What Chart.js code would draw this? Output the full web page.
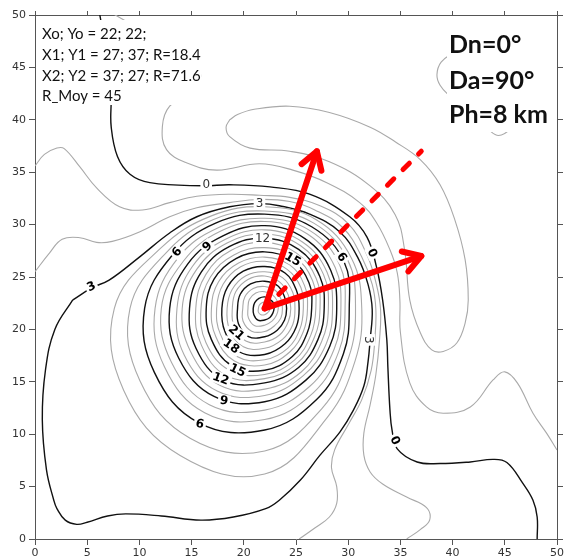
<!DOCTYPE html>
<html>
<head>
<meta charset="utf-8">
<script src="https://cdn.jsdelivr.net/npm/chart.js@4.4.1/dist/chart.umd.min.js"></script>
<style>
  html, body { margin: 0; padding: 0; background: #fff; }
  #map { display: block; }
</style>
</head>
<body>
<canvas id="map" width="564" height="558"></canvas>
<script>
// ---- axes ----
const axisTicks = [0, 5, 10, 15, 20, 25, 30, 35, 40, 45, 50];

// ---- source point and the two target vectors ----
const origin = [22, 22];
const arrowTips = [[27, 37], [37, 27]];
const meanTip = [37, 37];

const infoLines = ['Xo; Yo = 22; 22;', 'X1; Y1 = 27; 37; R=18.4', 'X2; Y2 = 37; 27; R=71.6', 'R_Moy = 45'];
const paramLines = ['Dn=0°', 'Da=90°', 'Ph=8 km'];

// ---- closed rings around the peak: radius (km) per direction ----
const ringAngles = [0, 30, 60, 90, 120, 150, 180, 210, 240, 270, 300, 330];
const ringLevels = [4, 5, 6, 7, 8, 9, 10, 11, 12, 13, 14, 15, 16, 17, 18, 19, 20, 21, 22, 23, 24, 25];
const ringRadii = [
  [9.3, 9.6, 9.8, 9.7, 10.2, 11.5, 14.4, 15.6, 16.2, 15.8, 12.0, 10.0],
  [8.7, 9.2, 9.4, 9.3, 9.8, 10.8, 12.9, 13.8, 14.3, 13.6, 11.0, 9.3],
  [8.1, 8.8, 9.0, 9.0, 9.4, 10.2, 11.5, 12.2, 12.6, 11.6, 10.0, 8.7],
  [7.7, 8.3, 8.6, 8.6, 8.9, 9.6, 10.5, 11.1, 11.5, 10.6, 9.3, 8.2],
  [7.3, 7.8, 8.2, 8.3, 8.5, 9.0, 9.9, 10.3, 10.6, 9.7, 8.6, 7.7],
  [6.9, 7.3, 7.7, 7.9, 8.0, 8.5, 9.1, 9.5, 9.7, 8.9, 7.9, 7.2],
  [6.5, 6.9, 7.3, 7.5, 7.6, 8.0, 8.4, 8.9, 9.1, 8.3, 7.4, 6.8],
  [6.1, 6.5, 6.9, 7.1, 7.2, 7.5, 7.9, 8.2, 8.5, 7.7, 7.0, 6.3],
  [5.7, 6.1, 6.5, 6.7, 6.8, 7.0, 7.2, 7.6, 7.9, 7.1, 6.5, 5.9],
  [5.3, 5.7, 6.1, 6.3, 6.4, 6.5, 6.6, 7.0, 7.4, 6.7, 6.1, 5.5],
  [4.9, 5.3, 5.7, 5.8, 5.9, 6.0, 6.1, 6.5, 6.8, 6.3, 5.7, 5.1],
  [4.5, 4.9, 5.3, 5.4, 5.5, 5.6, 5.6, 5.9, 6.3, 5.9, 5.3, 4.7],
  [4.1, 4.4, 4.8, 4.9, 5.0, 5.1, 5.1, 5.4, 5.8, 5.4, 4.8, 4.3],
  [3.7, 4.0, 4.3, 4.5, 4.6, 4.6, 4.6, 4.9, 5.3, 4.9, 4.4, 3.9],
  [3.3, 3.5, 3.9, 4.0, 4.1, 4.1, 4.1, 4.4, 4.8, 4.4, 3.9, 3.5],
  [2.9, 3.1, 3.4, 3.5, 3.6, 3.6, 3.6, 3.9, 4.2, 3.8, 3.4, 3.1],
  [2.5, 2.6, 2.9, 3.1, 3.2, 3.2, 3.1, 3.4, 3.6, 3.2, 2.9, 2.6],
  [2.1, 2.2, 2.5, 2.6, 2.7, 2.7, 2.6, 2.9, 3.1, 2.7, 2.4, 2.2],
  [1.7, 1.8, 2.0, 2.1, 2.2, 2.2, 2.1, 2.4, 2.5, 2.2, 1.9, 1.8],
  [1.3, 1.4, 1.5, 1.6, 1.7, 1.7, 1.6, 1.8, 1.9, 1.6, 1.4, 1.3],
  [0.9, 1.0, 1.0, 1.1, 1.1, 1.1, 1.1, 1.2, 1.3, 1.1, 1.0, 0.9],
  [0.5, 0.5, 0.5, 0.6, 0.6, 0.6, 0.6, 0.7, 0.7, 0.6, 0.5, 0.5]
];

// ---- outer isolines, traced as [x, y] ----
const line3 = [[3.6,22.8],[5.5,24.0],[7.1,24.7],[10.0,26.9],[12.9,29.2],[15.5,30.75],[18.65,31.7],[21.5,32.0],[23.4,31.8],[26.3,31.0],[29.2,29.3],[30.9,26.9],[31.9,24.3],[32.3,21.9],[32.1,19.0],[31.9,16.9],[31.5,14.6],[30.5,12.3],[29.2,10.2],[27.3,8.0],[25.4,5.6],[23.4,3.7],[22.1,2.9],[19.0,2.1],[15.9,1.8],[12.1,2.2],[8.7,2.4],[6.95,2.2],[5.0,1.6],[4.0,1.4],[2.9,1.8],[2.1,2.9],[1.8,3.7],[1.1,6.6],[0.7,11.4],[1.0,16.1],[1.9,20.0],[3.6,22.8]];
const line2 = [[0,25.5],[1.4,27.3],[2.6,28.6],[4.3,28.75],[5.9,28.3],[7.4,28.4],[10.0,29.3],[12.9,30.75],[15.5,31.6],[18.65,32.1],[21.5,32.4],[24.4,32.2],[26.8,31.4],[29.5,29.7],[31.3,26.9],[32.3,24.3],[32.65,21.9],[32.55,19.0],[32.2,16.1],[31.3,13.3],[30.0,10.9],[28.7,8.5],[28.4,6.8],[28.9,5.0],[28.9,3.4],[28.2,2.1],[26.8,1.05],[25.3,0]];
const line1 = [[0,35.6],[0.9,36.7],[2.1,37.3],[2.8,37.25],[4.3,35.5],[5.9,33.5],[8.1,31.7],[10.3,31.4],[12.9,32.1],[15.5,32.7],[18.65,32.9],[21.5,32.8],[24.4,32.6],[27.3,31.8],[30.0,30.1],[31.8,27.1],[32.7,24.3],[33.1,21.9],[33.0,19.0],[32.65,15.7],[32.1,12.8],[31.5,10.1],[31.5,8.0],[32.1,6.4],[33.3,5.25],[35.6,4.0],[37.5,3.0],[37.8,1.8],[36.9,0.9],[35.6,0]];
const line0 = [[6.2,50.05],[6.8,46.7],[7.3,43.4],[7.3,41.9],[7.3,39.3],[7.9,36.5],[9.1,34.8],[11.0,34.0],[16.1,33.7],[18.65,33.8],[22.5,33.6],[26.3,32.9],[30.15,30.75],[31.8,28.8],[32.7,26.0],[33.3,22.8],[33.7,19.0],[33.8,16.4],[34.0,12.3],[34.2,10.4],[34.7,8.6],[36.6,7.35],[38.8,7.2],[41.7,7.35],[43.9,7.6],[45.2,7.3],[46.7,5.35],[47.7,3.7],[48.1,2.1],[48.1,0]];
const lineM1 = [[7.6,50.05],[11.0,48.1],[14.3,46.2],[15.8,44.6],[15.3,42.9],[12.9,41.3],[12.2,39.35],[12.6,37.15],[14.5,35.9],[17.4,35.2],[21.5,35.8],[24.7,35.2],[27.95,34.0],[31.1,32.1],[32.7,30.2],[34.0,27.6],[34.7,25.4],[34.95,22.8],[35.0,19.7],[35.9,14.9],[37.5,12.6],[39.1,12.0],[41.7,12.6],[43.9,15.2],[45.0,15.95],[46.2,14.9],[47.7,12.0],[49.0,10.1],[50,8.5]];
const lineM2 = [[18.65,40.0],[18.3,39.3],[18.65,38.4],[20.6,37.3],[24.4,37.0],[28.2,36.0],[32.1,33.7],[34.5,30.95],[35.4,27.6],[35.9,22.8],[36.9,19.7],[38.0,18.05],[39.1,17.9],[40.4,18.7],[41.2,20.6],[41.5,22.8],[41.2,26.65],[40.2,30.5],[38.8,33.8],[36.9,36.2],[34.5,37.9],[32.1,39.3],[28.2,40.7],[24.4,41.3],[21.0,41.0],[19.4,40.5],[18.65,40.0]];
// small closed low in the upper-right corner, mostly under the parameter block
const lineM3 = [[40.2,46.5],[38.9,45.5],[38.5,44.3],[38.8,43.3],[39.7,42.3],[41.7,40.5],[43.4,39.1],[44.4,38.5],[45.5,39.1],[46.9,41.2],[47.4,43.8],[46.0,46.2],[43.6,47.2],[40.2,46.5]];

const outerLines = [
  { level: 3, pts: line3 }, { level: 2, pts: line2 }, { level: 1, pts: line1 },
  { level: 0, pts: line0 }, { level: -1, pts: lineM1 }, { level: -2, pts: lineM2 },
  { level: -4, pts: lineM3 }
];

// isoline labels: value, anchor (km), rotation (deg), bold
const contourLabels = [
  ['0', 16.4, 33.8, 0, false], ['3', 21.5, 32.0, 0, false], ['12', 21.8, 28.7, 0, false],
  ['6', 13.6, 27.4, -50, true], ['9', 16.5, 27.9, -42, true],
  ['15', 24.7, 26.7, 30, true], ['6', 29.4, 26.9, 55, true], ['0', 32.3, 27.3, 65, true],
  ['3', 5.4, 24.1, -25, true],
  ['21', 19.3, 19.7, 42, true], ['18', 18.8, 18.4, 35, true], ['15', 19.4, 16.1, 25, true],
  ['12', 17.8, 15.3, 20, true], ['9', 18.1, 13.2, 10, true], ['6', 15.8, 11.0, 12, true],
  ['3', 32.0, 19.0, 90, false], ['0', 34.5, 9.4, 62, true]
];

// ---- datasets ----
function isoStyle(level) {
  const major = level % 3 === 0 && level >= 0;
  return { borderColor: major ? '#111' : '#a9a9a9', borderWidth: major ? 1.4 : 1.1 };
}

const datasets = [];
ringLevels.forEach((lev, i) => {
  const pts = ringAngles.map((a, j) => {
    const t = a * Math.PI / 180;
    return { x: origin[0] + ringRadii[i][j] * Math.cos(t), y: origin[1] + ringRadii[i][j] * Math.sin(t) };
  });
  // wrap one point on each side so the closing joint is smoothed too,
  // then hide the two one-sided end segments
  const data = [pts[pts.length - 1]].concat(pts, [pts[0], pts[1]]);
  const last = data.length - 1;
  const st = isoStyle(lev);
  datasets.push({
    data, tension: 0.4, pointRadius: 0, order: 1,
    borderColor: st.borderColor, borderWidth: st.borderWidth,
    segment: {
      borderColor: c => (c.p0DataIndex === 0 || c.p1DataIndex === last) ? 'rgba(0,0,0,0)' : st.borderColor
    }
  });
});
outerLines.forEach(l => {
  datasets.push(Object.assign({ data: l.pts.map(p => ({ x: p[0], y: p[1] })), tension: 0.4, pointRadius: 0, order: 1 }, isoStyle(l.level)));
});
// mean direction (dashed) and the two vectors
datasets.push({
  data: [{ x: origin[0], y: origin[1] }, { x: meanTip[0], y: meanTip[1] }],
  borderColor: '#ff0000', borderWidth: 5, borderDash: [9, 13], borderDashOffset: 2,
  borderCapStyle: 'round', pointRadius: 0, order: 0, isArrow: true
});
arrowTips.forEach(t => {
  datasets.push({
    data: [{ x: origin[0], y: origin[1] }, { x: t[0], y: t[1] }],
    borderColor: '#ff0000', borderWidth: 6, borderCapStyle: 'round',
    pointRadius: 0, order: 0, isArrow: true
  });
});

// ---- overlay: isoline labels, text blocks, arrow heads ----
let labelsDone = false;

function drawLabels(chart) {
  const { ctx, scales } = chart;
  ctx.save();
  ctx.textAlign = 'center';
  ctx.textBaseline = 'middle';
  contourLabels.forEach(([txt, x, y, rot, bold]) => {
    const px = scales.x.getPixelForValue(x);
    const py = scales.y.getPixelForValue(y);
    ctx.save();
    ctx.translate(px, py);
    ctx.rotate(rot * Math.PI / 180);
    ctx.font = (bold ? 'bold ' : '') + '12px "DejaVu Sans"';
    const w = ctx.measureText(txt).width + 4;
    ctx.fillStyle = '#fff';
    ctx.fillRect(-w / 2, -6, w, 12);
    ctx.fillStyle = bold ? '#000' : '#333';
    ctx.fillText(txt, 0, 0.5);
    ctx.restore();
  });
  ctx.restore();
}

function drawTextBlocks(chart) {
  const ctx = chart.ctx;
  ctx.save();
  ctx.fillStyle = '#fff';
  ctx.fillRect(36, 20, 165, 85);
  ctx.fillRect(447, 25, 109, 107);
  ctx.fillStyle = '#111';
  ctx.textAlign = 'left';
  ctx.textBaseline = 'alphabetic';
  ctx.font = '15px Lato';
  const base = [38.5, 59.5, 80.5, 101];
  infoLines.forEach((s, i) => ctx.fillText(s, 42, base[i]));
  ctx.font = 'bold 25px Lato';
  const base2 = [53, 89, 123];
  paramLines.forEach((s, i) => ctx.fillText(s, 449, base2[i]));
  ctx.restore();
}

function drawArrowHeads(chart) {
  const { ctx, scales } = chart;
  const ox = scales.x.getPixelForValue(origin[0]);
  const oy = scales.y.getPixelForValue(origin[1]);
  ctx.save();
  ctx.strokeStyle = '#ff0000';
  ctx.lineWidth = 6;
  ctx.lineCap = 'round';
  ctx.lineJoin = 'round';
  arrowTips.forEach(t => {
    const tx = scales.x.getPixelForValue(t[0]);
    const ty = scales.y.getPixelForValue(t[1]);
    const a = Math.atan2(ty - oy, tx - ox);
    const len = 20, spread = 0.55;
    ctx.beginPath();
    ctx.moveTo(tx - len * Math.cos(a - spread), ty - len * Math.sin(a - spread));
    ctx.lineTo(tx, ty);
    ctx.lineTo(tx - len * Math.cos(a + spread), ty - len * Math.sin(a + spread));
    ctx.stroke();
  });
  ctx.restore();
}

const overlay = {
  id: 'overlay',
  beforeDatasetsDraw() { labelsDone = false; },
  beforeDatasetDraw(chart, args) {
    if (!labelsDone && chart.data.datasets[args.index].isArrow) {
      drawLabels(chart);
      drawTextBlocks(chart);
      labelsDone = true;
    }
  },
  afterDatasetsDraw(chart) { drawArrowHeads(chart); }
};

// ---- scales ----
const axisColor = '#555';
function zeroPad(s) { s.paddingLeft = 0; s.paddingRight = 0; s.paddingTop = 0; s.paddingBottom = 0; }
function setTicks(s) { s.ticks = axisTicks.map(v => ({ value: v })); }
const tickFont = { family: '"DejaVu Sans"', size: 11 };

new Chart(document.getElementById('map'), {
  type: 'line',
  data: { datasets },
  plugins: [overlay],
  options: {
    responsive: false,
    animation: false,
    devicePixelRatio: 1,
    layout: { padding: 0 },
    plugins: { legend: { display: false }, tooltip: { enabled: false } },
    scales: {
      x: {
        type: 'linear', position: 'bottom', min: 0, max: 50,
        afterBuildTicks: setTicks,
        afterFit: s => { s.height = 19; zeroPad(s); },
        grid: { drawOnChartArea: false, color: axisColor, tickLength: 6 },
        border: { color: axisColor },
        ticks: { font: tickFont, color: '#333', padding: 2, maxRotation: 0 }
      },
      x2: {
        type: 'linear', position: 'top', min: 0, max: 50,
        afterBuildTicks: setTicks,
        afterFit: s => { s.height = 15; zeroPad(s); },
        grid: { drawOnChartArea: false, color: axisColor, tickLength: 4 },
        border: { color: axisColor },
        ticks: { callback: () => '', padding: 0 }
      },
      y: {
        type: 'linear', position: 'left', min: 0, max: 50,
        afterBuildTicks: setTicks,
        afterFit: s => { s.width = 35; zeroPad(s); },
        grid: { drawOnChartArea: false, color: axisColor, tickLength: 6 },
        border: { color: axisColor },
        ticks: { font: tickFont, color: '#333', padding: 3 }
      },
      y2: {
        type: 'linear', position: 'right', min: 0, max: 50,
        afterBuildTicks: setTicks,
        afterFit: s => { s.width = 7; zeroPad(s); },
        grid: { drawOnChartArea: false, color: axisColor, tickLength: 6 },
        border: { color: axisColor },
        ticks: { callback: () => '', padding: 0 }
      }
    }
  }
});
</script>
</body>
</html>
